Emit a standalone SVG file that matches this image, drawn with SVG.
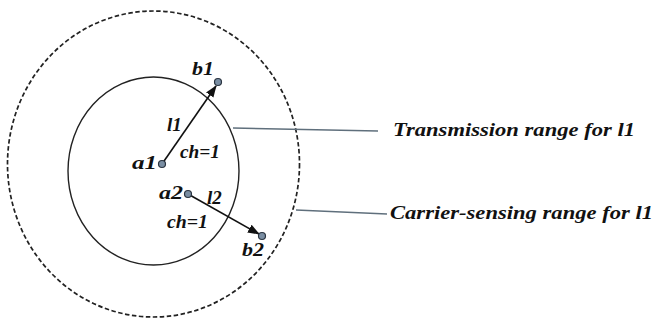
<svg xmlns="http://www.w3.org/2000/svg" width="656" height="322" viewBox="0 0 656 322">
<style>
text{font-family:'Liberation Serif','Times New Roman',serif;font-weight:700;font-style:italic;fill:#111}
.lbl{font-size:19px}
.big{font-size:19px}
.dot{fill:#7a8ea3;stroke:#2a3440;stroke-width:1.2}
.lead{stroke:#5f6f7c;stroke-width:1.4;fill:none}
.arr{stroke:#111;stroke-width:1.6;fill:none;marker-end:url(#ah)}
</style>
<defs>
<marker id="ah" markerWidth="12" markerHeight="9" refX="11" refY="4.5" orient="auto" markerUnits="userSpaceOnUse">
<path d="M0,0 L12,4.5 L0,9 Z" fill="#111"/>
</marker>
</defs>
<rect width="656" height="322" fill="#fff"/>
<g id="sensing-range">
<ellipse cx="153.5" cy="164" rx="146" ry="153" fill="none" stroke="#222" stroke-width="1.7" stroke-dasharray="4.5,2.5"/>
</g>
<g id="transmission-range">
<ellipse cx="153.5" cy="171" rx="85.5" ry="94" fill="none" stroke="#222" stroke-width="1.4"/>
</g>
<g id="connectors">
<line class="arr" x1="162" y1="164" x2="216" y2="86"/>
<line class="arr" x1="188" y1="194" x2="259" y2="234"/>
<line class="lead" x1="233" y1="128" x2="378" y2="131"/>
<line class="lead" x1="296" y1="210" x2="387" y2="214"/>
</g>
<g id="a1"><circle class="dot" cx="162" cy="164" r="3.5"/><text class="lbl" x="132" y="169" textLength="25" lengthAdjust="spacingAndGlyphs">a1</text></g>
<g id="b1"><circle class="dot" cx="218" cy="82" r="3.5"/><text class="lbl" x="192" y="75" textLength="22" lengthAdjust="spacingAndGlyphs">b1</text></g>
<g id="a2"><circle class="dot" cx="188" cy="194" r="3.5"/><text class="lbl" x="159" y="199" textLength="24" lengthAdjust="spacingAndGlyphs">a2</text></g>
<g id="b2"><circle class="dot" cx="262" cy="236" r="3.5"/><text class="lbl" x="242" y="256" textLength="22" lengthAdjust="spacingAndGlyphs">b2</text></g>
<g id="link-labels">
<text class="lbl" x="167" y="131">l1</text>
<text class="lbl" x="180" y="158" textLength="40" lengthAdjust="spacingAndGlyphs">ch=1</text>
<text class="lbl" x="207" y="204">l2</text>
<text class="lbl" x="167" y="228" textLength="41" lengthAdjust="spacingAndGlyphs">ch=1</text>
</g>
<g id="legend-transmission"><text class="big" x="393" y="136" textLength="242" lengthAdjust="spacingAndGlyphs">Transmission range for l1</text></g>
<g id="legend-sensing"><text class="big" x="390" y="219" textLength="263" lengthAdjust="spacingAndGlyphs">Carrier-sensing range for l1</text></g>
</svg>
